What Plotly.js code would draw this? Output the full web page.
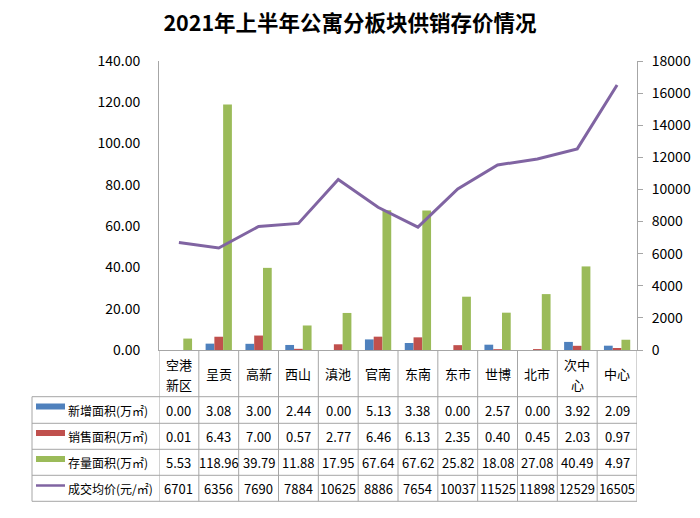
<!DOCTYPE html>
<html>
<head>
<meta charset="utf-8">
<script src="https://cdn.plot.ly/plotly-3.0.1.min.js"></script>
<style>
  html, body { margin: 0; padding: 0; background: #fff; }
  #chart { width: 700px; height: 518px; }
</style>
</head>
<body>
<div id="chart"></div>
<script>
// data
var categories = ['空港新区', '呈贡', '高新', '西山', '滇池', '官南', '东南', '东市', '世博', '北市', '次中心', '中心'];
var headerLabels = [['空港', '新区'], ['呈贡'], ['高新'], ['西山'], ['滇池'], ['官南'], ['东南'], ['东市'], ['世博'], ['北市'], ['次中', '心'], ['中心']];
var newArea = [0.00, 3.08, 3.00, 2.44, 0.00, 5.13, 3.38, 0.00, 2.57, 0.00, 3.92, 2.09];
var soldArea = [0.01, 6.43, 7.00, 0.57, 2.77, 6.46, 6.13, 2.35, 0.40, 0.45, 2.03, 0.97];
var stockArea = [5.53, 118.96, 39.79, 11.88, 17.95, 67.64, 67.62, 25.82, 18.08, 27.08, 40.49, 4.97];
var avgPrice = [6701, 6356, 7690, 7884, 10625, 8886, 7654, 10037, 11525, 11898, 12529, 16505];
var seriesNames = ['新增面积(万㎡)', '销售面积(万㎡)', '存量面积(万㎡)', '成交均价(元/㎡)'];

var colors = ['#4f81bd', '#c0504d', '#9bbb59', '#8064a2'];
var font = '"Noto Sans CJK SC", "Noto Sans", sans-serif';
var gridColor = '#a6a6a6';

// plot area in pixels: left 159, right 637, top 61, bottom 350
var plotTop = 61, plotBottom = 350, plotLeft = 159, plotRight = 637;
function py(px) { return (plotBottom - px) / (plotBottom - plotTop); }
function pxX(px) { return (px - plotLeft) / (plotRight - plotLeft); }

var data = [
  {type: 'bar', name: seriesNames[0], x: categories, y: newArea, marker: {color: colors[0]}},
  {type: 'bar', name: seriesNames[1], x: categories, y: soldArea, marker: {color: colors[1]}},
  {type: 'bar', name: seriesNames[2], x: categories, y: stockArea, marker: {color: colors[2]}},
  {type: 'scatter', mode: 'lines', name: seriesNames[3], x: categories, y: avgPrice, yaxis: 'y2',
   line: {color: colors[3], width: 3}}
];

// table rows
var rowValues = [newArea, soldArea, stockArea, avgPrice];
var rowCenters = [410, 436.5, 462.5, 488.5];
var rowLines = [396.7, 423.3, 449.3, 475.3, 501.3];
var tableLeft = pxX(32);
var tableBottom = py(501.3);

var shapes = [];
var annotations = [];

// vertical grid of the table, on category boundaries
for (var i = 0; i <= categories.length; i++) {
  shapes.push({type: 'line', xref: 'x', yref: 'paper', x0: i - 0.5, x1: i - 0.5, y0: 0, y1: tableBottom,
    line: {color: gridColor, width: 1}});
}
shapes.push({type: 'line', xref: 'paper', yref: 'paper', x0: tableLeft, x1: tableLeft, y0: py(rowLines[0]), y1: tableBottom,
  line: {color: gridColor, width: 1}});
rowLines.forEach(function (l) {
  shapes.push({type: 'line', xref: 'paper', yref: 'paper', x0: tableLeft, x1: 1, y0: py(l), y1: py(l),
    line: {color: gridColor, width: 1}});
});

// header row, wrapped labels get one annotation per line
headerLabels.forEach(function (lines, i) {
  var ys = lines.length === 2 ? [364, 384] : [373.5];
  lines.forEach(function (t, k) {
    annotations.push({xref: 'x', yref: 'paper', x: categories[i], y: py(ys[k]), text: t, showarrow: false,
      font: {family: font, size: 13, color: '#000'}, xanchor: 'center', yanchor: 'middle'});
  });
});

// data rows with legend keys
rowValues.forEach(function (vals, r) {
  var yc = py(rowCenters[r]);
  if (r < 3) {
    shapes.push({type: 'rect', xref: 'paper', yref: 'paper', x0: pxX(36), x1: pxX(65),
      y0: py(rowCenters[r] - 0.5), y1: py(rowCenters[r] - 6.5), fillcolor: colors[r], line: {width: 0}});
  } else {
    shapes.push({type: 'line', xref: 'paper', yref: 'paper', x0: pxX(36), x1: pxX(65),
      y0: py(rowCenters[r] - 3), y1: py(rowCenters[r] - 3), line: {color: colors[r], width: 2.5}});
  }
  annotations.push({xref: 'paper', yref: 'paper', x: pxX(66), y: yc, text: seriesNames[r], showarrow: false,
    font: {family: font, size: 12, color: '#000'}, xanchor: 'left', yanchor: 'middle'});
  vals.forEach(function (v, i) {
    annotations.push({xref: 'x', yref: 'paper', x: categories[i], y: yc,
      text: r < 3 ? v.toFixed(2) : String(v), showarrow: false,
      font: {family: font, size: 13, color: '#000'}, xanchor: 'center', yanchor: 'middle'});
  });
});

var layout = {
  width: 700,
  height: 518,
  margin: {l: plotLeft, r: 700 - plotRight, t: plotTop, b: 518 - plotBottom, pad: 0},
  paper_bgcolor: '#fff',
  plot_bgcolor: '#fff',
  showlegend: false,
  barmode: 'group',
  bargap: 0.34,
  bargroupgap: 0,
  title: {
    text: '<b>2021年上半年公寓分板块供销存价情况</b>',
    x: 0.5, xref: 'container', xanchor: 'center',
    y: 1 - 23 / 518, yref: 'container', yanchor: 'middle',
    font: {family: font, size: 21.5, color: '#000'}
  },
  xaxis: {
    type: 'category',
    categoryarray: categories,
    range: [-0.5, categories.length - 0.5],
    showticklabels: false,
    ticks: '',
    showgrid: false,
    zeroline: false,
    showline: true,
    linecolor: gridColor,
    linewidth: 1
  },
  yaxis: {
    range: [0, 140],
    dtick: 20,
    tickformat: '.2f',
    showgrid: false,
    zeroline: false,
    showline: true,
    linecolor: gridColor,
    ticks: '',
    ticklabelstandoff: 15,
    tickfont: {family: font, size: 14, color: '#000'}
  },
  yaxis2: {
    overlaying: 'y',
    side: 'right',
    range: [0, 18000],
    dtick: 2000,
    tickformat: 'd',
    showgrid: false,
    zeroline: false,
    showline: true,
    linecolor: gridColor,
    ticks: 'outside',
    ticklen: 5,
    tickcolor: gridColor,
    ticklabelstandoff: 6,
    tickfont: {family: font, size: 14, color: '#000'}
  },
  shapes: shapes,
  annotations: annotations
};

Plotly.newPlot('chart', data, layout, {displayModeBar: false, staticPlot: true});
</script>
</body>
</html>
